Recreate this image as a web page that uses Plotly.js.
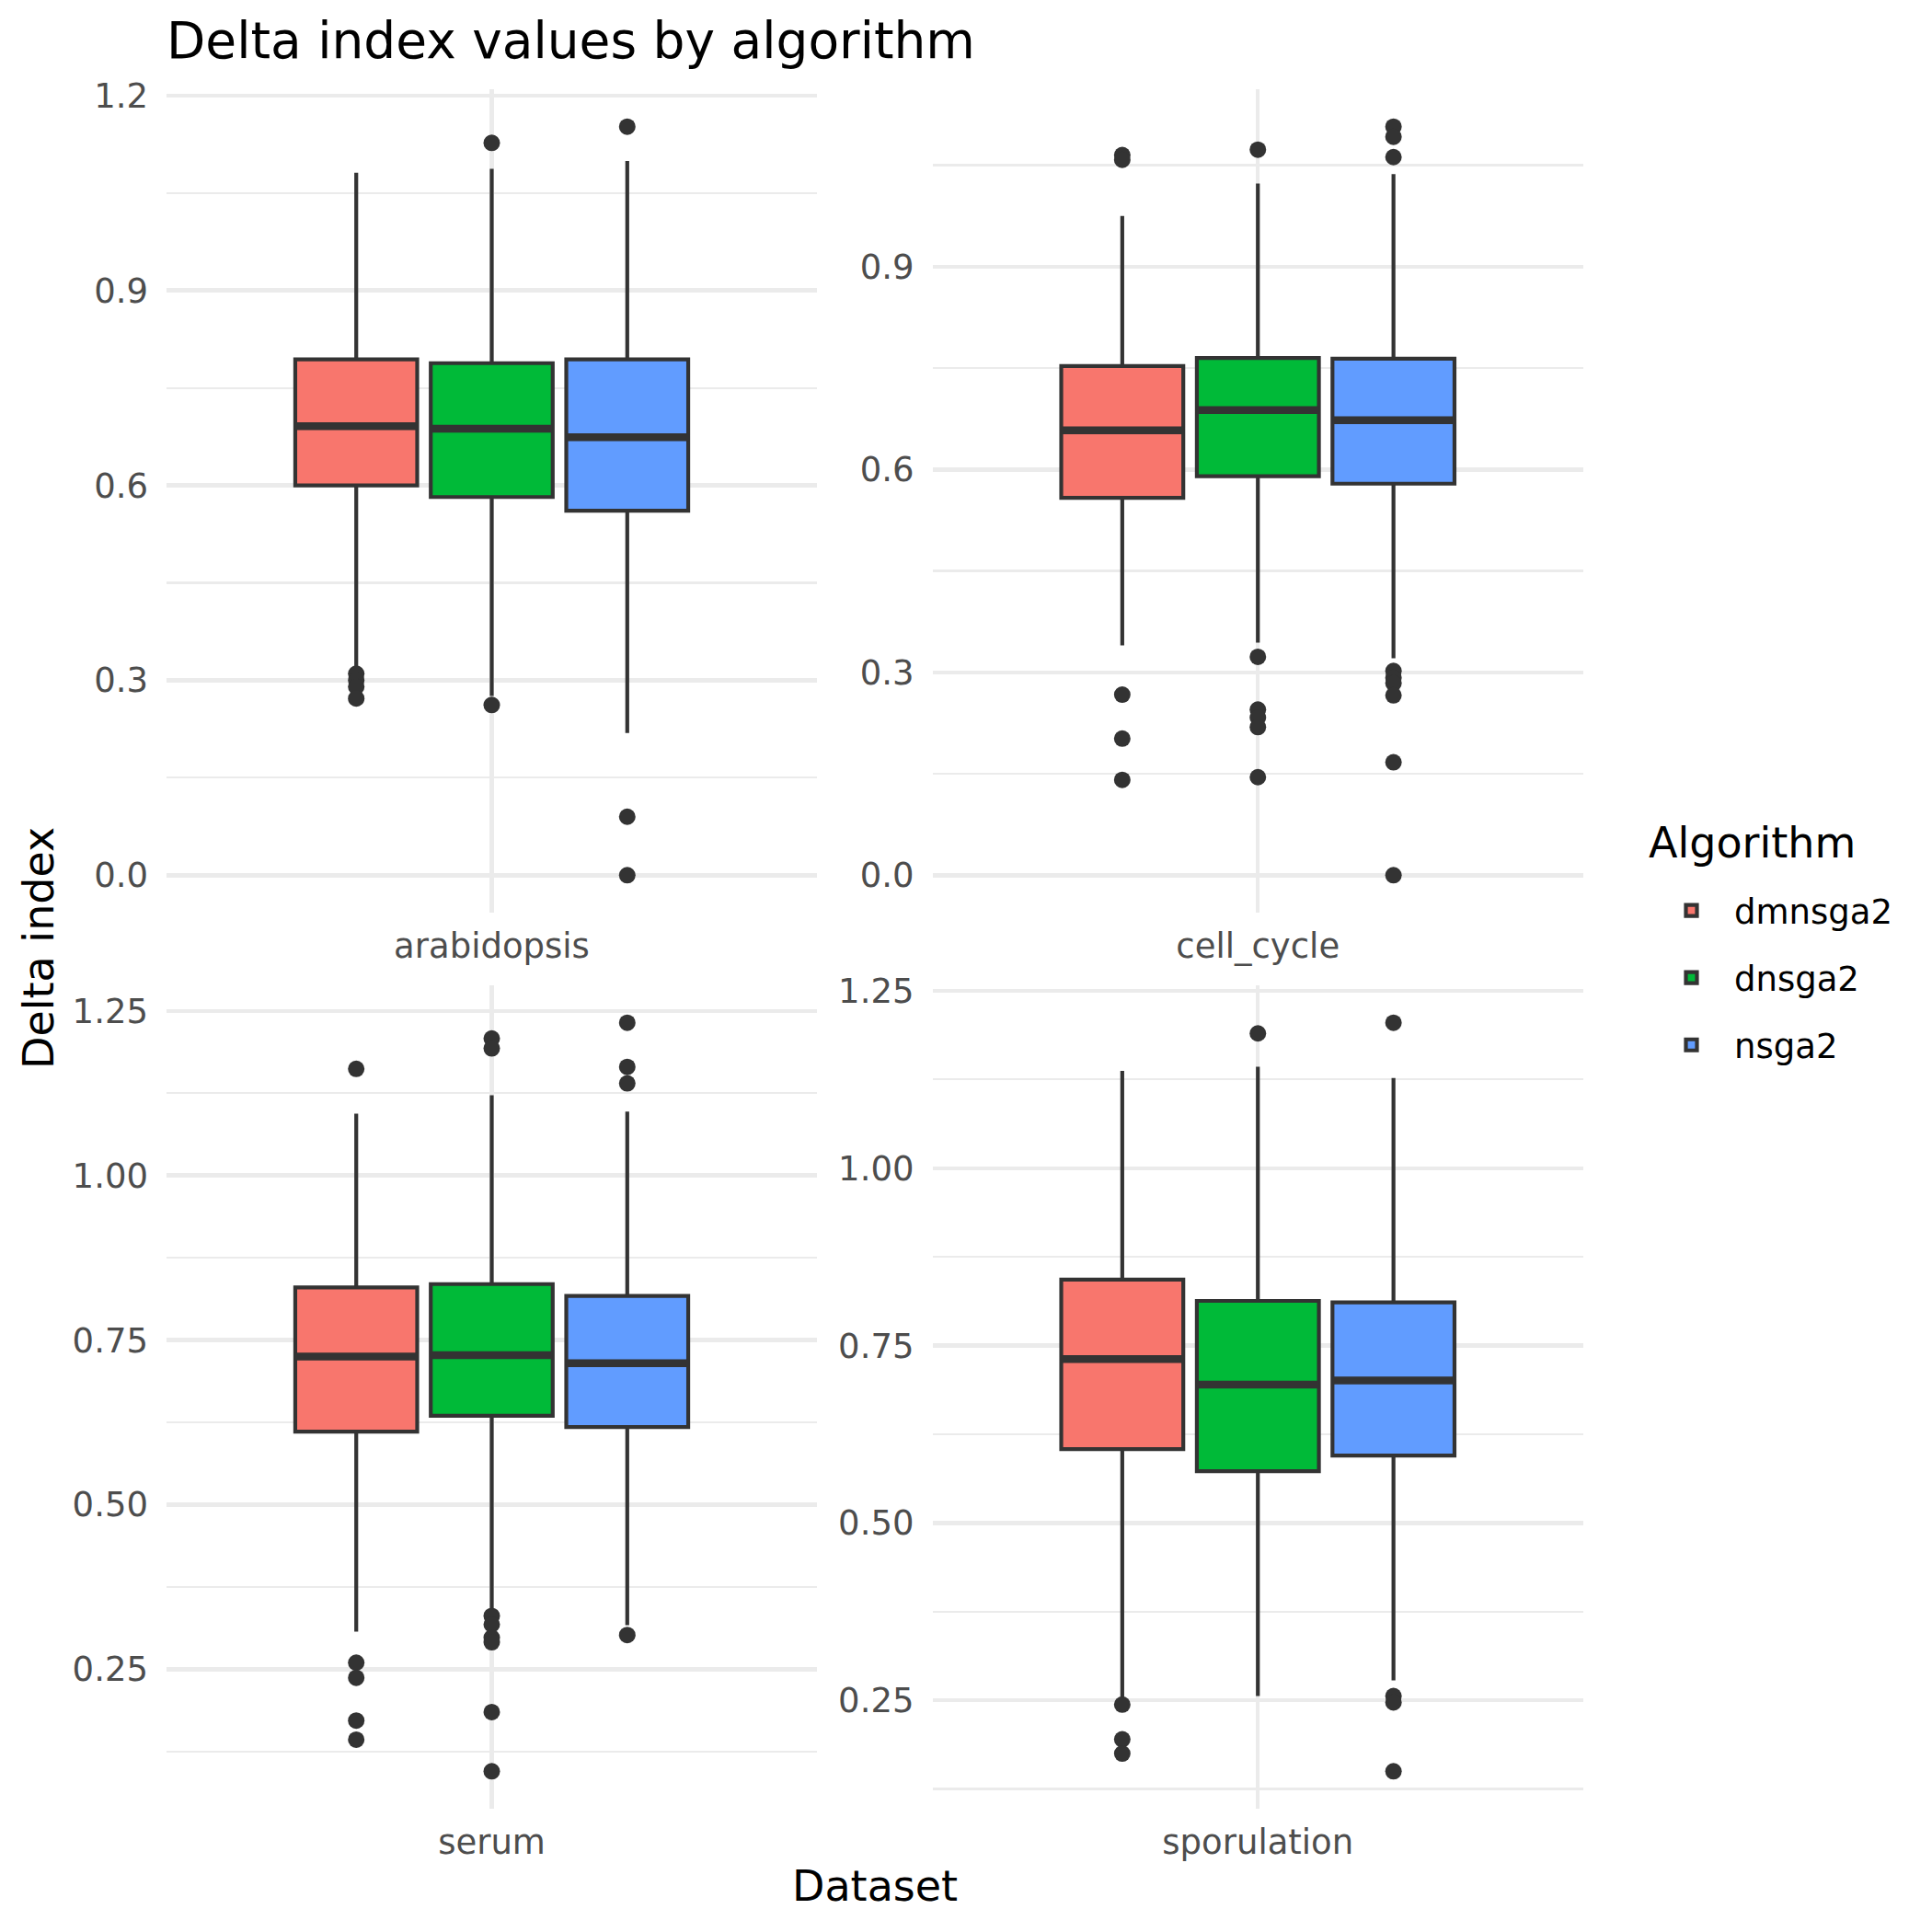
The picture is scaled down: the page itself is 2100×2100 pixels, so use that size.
<!DOCTYPE html>
<html>
<head>
<meta charset="utf-8">
<script src="https://cdn.plot.ly/plotly-3.0.1.min.js"></script>
<style>html,body{margin:0;padding:0;background:#fff;}#chart{width:2100px;height:2100px;}</style>
</head>
<body>
<div id="chart"></div>
<script>
// ---- data ----
const datasets = ["arabidopsis", "cell_cycle", "serum", "sporulation"];
const algorithms = ["dmnsga2", "dnsga2", "nsga2"];

// rows = datasets, columns = algorithms
const lowerWhisker = [
  [0.315, 0.276, 0.219],
  [0.340, 0.344, 0.321],
  [0.307, 0.340, 0.317],
  [0.252, 0.256, 0.278]
];
const q1Vals = [
  [0.600, 0.582, 0.561],
  [0.558, 0.590, 0.579],
  [0.611, 0.635, 0.618],
  [0.604, 0.573, 0.595]
];
const medianVals = [
  [0.691, 0.687, 0.674],
  [0.658, 0.688, 0.673],
  [0.725, 0.727, 0.715],
  [0.731, 0.695, 0.701]
];
const q3Vals = [
  [0.794, 0.788, 0.794],
  [0.753, 0.765, 0.764],
  [0.830, 0.835, 0.817],
  [0.843, 0.813, 0.811]
];
const upperWhisker = [
  [1.081, 1.087, 1.099],
  [0.975, 1.023, 1.037],
  [1.094, 1.122, 1.097],
  [1.137, 1.143, 1.127]
];
const outlierVals = [
  [[0.310, 0.300, 0.290, 0.272], [1.127, 0.262], [1.152, 0.090, 0.000]],
  [[1.065, 1.058, 0.267, 0.202, 0.141], [1.073, 0.323, 0.245, 0.233, 0.219, 0.145],
   [1.107, 1.092, 1.062, 0.302, 0.292, 0.284, 0.266, 0.167, 0.000]],
  [[1.162, 0.260, 0.237, 0.172, 0.143], [1.208, 1.193, 0.331, 0.318, 0.298, 0.291, 0.185, 0.095],
   [1.232, 1.165, 1.140, 0.302]],
  [[0.244, 0.195, 0.175], [1.190], [1.205, 0.256, 0.247, 0.150]]
];

// ---- styles ----
const fillColors = ["#F8766D", "#00BA38", "#619CFF"];
const ink = "#333333";
const FONT = "DejaVu Sans";
const W = 2100, H = 2100;

// panel rectangles in pixels [left, right, top, bottom]
const panels = [
  [181, 888, 97, 992],
  [1013.5, 1721, 97, 992],
  [181, 888, 1071, 1966],
  [1013.5, 1721, 1071, 1966]
];
const yTickFormat = [".1f", ".1f", ".2f", ".2f"];
const yDtick = [0.3, 0.3, 0.25, 0.25];

const traces = [];
const layout = {
  width: W, height: H,
  paper_bgcolor: "#ffffff", plot_bgcolor: "#ffffff",
  margin: {l: 0, r: 0, t: 0, b: 0, pad: 0},
  font: {family: FONT, color: "#000000"},
  boxmode: "group", boxgap: 0.25, boxgroupgap: 0.1,
  scattermode: "group", scattergap: 0.25,
  showlegend: true,
  legend: {
    x: 1792 / W, xanchor: "left", y: 1 - 959 / H, yanchor: "top",
    traceorder: "grouped", tracegroupgap: 22, itemwidth: 83,
    font: {family: FONT, size: 37, color: "#000000"},
    bgcolor: "rgba(0,0,0,0)", borderwidth: 0
  },
  title: {
    text: "Delta index values by algorithm",
    x: 181 / W, xanchor: "left", xref: "container",
    y: 1 - 44 / H, yanchor: "middle", yref: "container",
    font: {family: FONT, size: 55, color: "#000000"}
  },
  annotations: [
    {text: "Delta index", textangle: -90, xref: "paper", yref: "paper",
     x: 42 / W, y: 1 - 1031 / H, xanchor: "center", yanchor: "middle", showarrow: false,
     font: {family: FONT, size: 46, color: "#000000"}},
    {text: "Dataset", xref: "paper", yref: "paper",
     x: 951 / W, y: 1 - 2050 / H, xanchor: "center", yanchor: "middle", showarrow: false,
     font: {family: FONT, size: 46, color: "#000000"}},
    {text: "Algorithm", xref: "paper", yref: "paper",
     x: 1790 / W, y: 1 - 916 / H, xanchor: "left", yanchor: "middle", showarrow: false,
     font: {family: FONT, size: 46, color: "#000000"}}
  ]
};

datasets.forEach((ds, i) => {
  const n = i + 1;
  const xa = "x" + (n === 1 ? "" : n);
  const ya = "y" + (n === 1 ? "" : n);
  const xKey = "xaxis" + (n === 1 ? "" : n);
  const yKey = "yaxis" + (n === 1 ? "" : n);

  // data extent for ggplot-like 5% expansion
  let lo = Infinity, hi = -Infinity;
  algorithms.forEach((alg, j) => {
    const vals = [lowerWhisker[i][j], upperWhisker[i][j]].concat(outlierVals[i][j]);
    vals.forEach(v => { lo = Math.min(lo, v); hi = Math.max(hi, v); });
  });
  const pad = (hi - lo) * 0.05;

  const p = panels[i];
  layout[xKey] = {
    domain: [p[0] / W, p[1] / W], anchor: ya,
    type: "category", range: [-0.6, 0.6],
    showgrid: true, gridcolor: "#EBEBEB", gridwidth: 4.4,
    zeroline: false, showline: false, ticks: "",
    ticklabelstandoff: 11,
    tickfont: {family: FONT, size: 37, color: "#4D4D4D"},
    fixedrange: true
  };
  layout[yKey] = {
    domain: [1 - p[3] / H, 1 - p[2] / H], anchor: xa,
    range: [lo - pad, hi + pad],
    tick0: 0, dtick: yDtick[i], tickformat: yTickFormat[i],
    showgrid: true, gridcolor: "#EBEBEB", gridwidth: 4.4,
    minor: {dtick: yDtick[i] / 2, showgrid: true, gridcolor: "#EBEBEB", gridwidth: 2.2},
    zeroline: false, showline: false, ticks: "",
    ticklabelstandoff: 19,
    tickfont: {family: FONT, size: 37, color: "#4D4D4D"},
    fixedrange: true
  };

  algorithms.forEach((alg, j) => {
    traces.push({
      type: "box", orientation: "v", name: alg, legendgroup: alg, showlegend: i === 0,
      xaxis: xa, yaxis: ya, x: [ds],
      q1: [q1Vals[i][j]], median: [medianVals[i][j]], q3: [q3Vals[i][j]],
      lowerfence: [lowerWhisker[i][j]], upperfence: [upperWhisker[i][j]],
      boxpoints: false, whiskerwidth: 0,
      fillcolor: fillColors[j], line: {color: ink, width: 4.2},
      offsetgroup: alg, alignmentgroup: "g" + n, hoverinfo: "skip"
    });
  });
  // thicker median bars (ggplot draws the median at double width)
  algorithms.forEach((alg, j) => {
    const m = medianVals[i][j];
    traces.push({
      type: "box", orientation: "v", name: alg, legendgroup: alg, showlegend: false,
      xaxis: xa, yaxis: ya, x: [ds],
      q1: [m], median: [m], q3: [m], lowerfence: [m], upperfence: [m],
      boxpoints: false, whiskerwidth: 0,
      fillcolor: "rgba(0,0,0,0)", line: {color: ink, width: 8.5},
      offsetgroup: alg, alignmentgroup: "g" + n, hoverinfo: "skip"
    });
  });
  algorithms.forEach((alg, j) => {
    const ys = outlierVals[i][j];
    traces.push({
      type: "scatter", mode: "markers", name: alg, legendgroup: alg, showlegend: false,
      xaxis: xa, yaxis: ya, x: ys.map(() => ds), y: ys,
      marker: {color: ink, size: 18, line: {width: 0}},
      offsetgroup: alg, alignmentgroup: "g" + n, hoverinfo: "skip", cliponaxis: false
    });
  });
});

Plotly.newPlot("chart", traces, layout, {displayModeBar: false, staticPlot: true});
</script>
</body>
</html>
